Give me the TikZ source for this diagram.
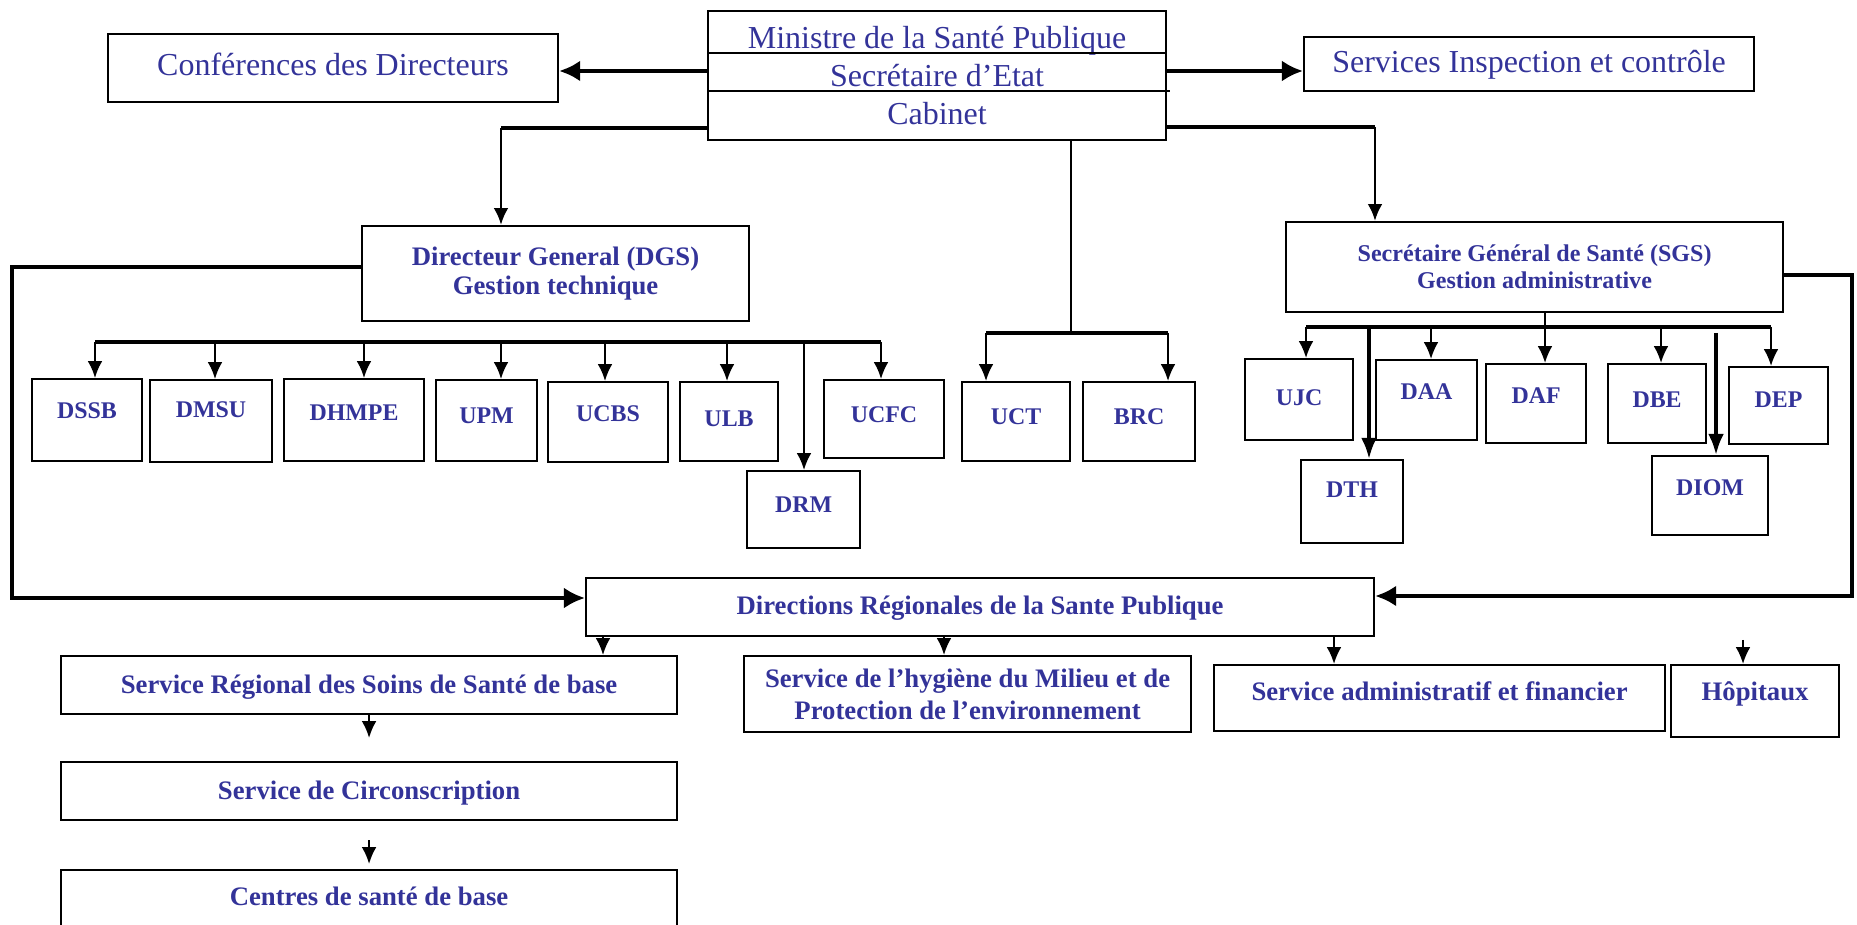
\documentclass[tikz,border=0pt]{standalone}
\usepackage{fontspec}
\setmainfont{Liberation Serif}
\usetikzlibrary{arrows.meta}
\definecolor{orgblue}{RGB}{51,51,153}

\tikzset{
  box/.style={draw, line width=0.6pt, inner sep=0pt, anchor=north west, text=orgblue},
  unit/.style={box, font=\fontsize{6.8}{8}\selectfont\bfseries},
  wide/.style={box, font=\fontsize{7.6}{9.1}\selectfont\bfseries},
  head/.style={box, font=\fontsize{9.1}{10.7}\selectfont},
  sz/.style n args={3}{minimum width=#1mm, text height=#2mm, text depth=#3mm},
  arr/.style={-{Latex[length=4.8pt,width=4.2pt]}, line width=0.6pt},
  bigarr/.style={-{Latex[length=6pt,width=6pt]}, line width=1.2pt},
  bar/.style={line width=1.2pt},
}

\begin{document}
\begin{tikzpicture}[x=1mm, y=-1mm]
\useasboundingbox (0,0) rectangle (185.7,92.5);

% top row
\node[head, sz={45}{4.1}{2.7}] (conf) at (10.7,3.3) {Conférences des Directeurs};
\node[head, align=center, minimum width=45.8mm, minimum height=12.9mm] (min) at (70.7,1.0)
  {Ministre de la Santé Publique\\Secrétaire d’Etat\\Cabinet};
\draw[line width=0.6pt] (min.west |- 0,5.3) -- (min.east |- 0,5.3);
\draw[line width=0.6pt] (min.west |- 0,9.1) -- ([xshift=0.3mm]min.east |- 0,9.1);
\node[head, sz={45}{3.5}{1.9}] (insp) at (130.3,3.6) {Services Inspection et contrôle};

\draw[bigarr] (min.west |- 0,7.1) -- (conf.east |- 0,7.1);
\draw[bigarr] (min.east |- 0,7.1) -- (insp.west |- 0,7.1);

% directions
\node[box, align=center, font=\fontsize{7.6}{8.5}\selectfont\bfseries,
  minimum width=38.7mm, minimum height=9.5mm] (dgs) at (36.1,22.5)
  {Directeur General (DGS)\\Gestion technique};
\node[box, align=center, font=\fontsize{6.85}{7.7}\selectfont\bfseries,
  minimum width=49.7mm, minimum height=9.0mm] (sgs) at (128.5,22.1)
  {Secrétaire Général de Santé (SGS)\\Gestion administrative};

\coordinate (dgsturn) at (50.1,12.8);
\draw[bar] (min.west |- dgsturn) -- (dgsturn);
\draw[arr, line width=0.8pt] (dgsturn) -- (dgsturn |- dgs.north);
\coordinate (sgsturn) at (137.5,12.7);
\draw[bar] (min.east |- sgsturn) -- (sgsturn);
\draw[arr, line width=0.8pt] (sgsturn) -- (sgsturn |- sgs.north);

% DGS units
\node[unit, sz={11.0}{3.9}{4.3}] (dssb) at (3.1,37.8) {DSSB};
\node[unit, sz={12.2}{3.7}{4.5}] (dmsu) at (14.9,37.9) {DMSU};
\node[unit, sz={14.0}{4.1}{4.1}] (dhmpe) at (28.3,37.8) {DHMPE};
\node[unit, sz={10.1}{4.3}{3.8}] (upm) at (43.5,37.9) {UPM};
\node[unit, sz={12.0}{3.9}{4.1}] (ucbs) at (54.7,38.1) {UCBS};
\node[unit, sz={9.8}{4.4}{3.5}] (ulb) at (67.9,38.1) {ULB};
\node[unit, sz={12.0}{4.2}{3.6}] (ucfc) at (82.3,37.9) {UCFC};
\node[unit, sz={11.3}{4.1}{3.6}] (drm) at (74.6,47.0) {DRM};

\coordinate (gbl) at (9.5,34.2);
\coordinate (gbr) at (88.1,34.2);
\draw[bar] (gbl) -- (gbr);
\draw[arr] (gbl) -- (gbl |- dssb.north);
\draw[arr] (21.5,34.4) -- (21.5,34.4 |- dmsu.north);
\draw[arr] (36.4,34.2) -- (36.4,34.2 |- dhmpe.north);
\draw[arr] (50.1,34.2) -- (50.1,34.2 |- upm.north);
\draw[arr] (60.5,34.2) -- (60.5,34.2 |- ucbs.north);
\draw[arr] (72.7,34.2) -- (72.7,34.2 |- ulb.north);
\draw[arr] (80.4,34.2) -- (80.4,34.2 |- drm.north);
\draw[arr] (gbr) -- (gbr |- ucfc.north);

% cabinet units
\node[unit, sz={10.8}{4.2}{3.7}] (uct) at (96.1,38.1) {UCT};
\node[unit, sz={11.2}{4.2}{3.7}] (brc) at (108.2,38.1) {BRC};
\coordinate (cbus) at (107.1,33.3);
\coordinate (cbl) at (98.6,33.3);
\coordinate (cbr) at (116.8,33.3);
\draw[line width=0.6pt] (min.south -| cbus) -- (cbus);
\draw[bar] (cbl) -- (cbr);
\draw[arr] (cbl) -- (cbl |- uct.north);
\draw[arr] (cbr) -- (cbr |- brc.north);

% SGS units
\node[unit, sz={10.8}{4.6}{3.5}] (ujc) at (124.4,35.8) {UJC};
\node[unit, sz={10.1}{3.9}{4.1}] (daa) at (137.5,35.9) {DAA};
\node[unit, sz={10.0}{3.9}{4.0}] (daf) at (148.5,36.3) {DAF};
\node[unit, sz={9.8}{4.3}{3.6}] (dbe) at (160.7,36.3) {DBE};
\node[unit, sz={9.9}{4.0}{3.7}] (dep) at (172.8,36.6) {DEP};
\node[unit, sz={10.2}{3.7}{4.6}] (dth) at (130.0,45.9) {DTH};
\node[unit, sz={11.6}{3.9}{4.0}] (diom) at (165.1,45.5) {DIOM};

\coordinate (sbus) at (154.5,32.7);
\coordinate (sbl) at (130.6,32.7);
\coordinate (sbr) at (177.1,32.7);
\draw[line width=0.6pt] (sgs.south -| sbus) -- (sbus);
\draw[bar] (sbl) -- (sbr);
\draw[arr] (sbl) -- (sbl |- ujc.north);
\draw[arr] (143.1,32.7) -- (143.1,32.7 |- daa.north);
\draw[arr] (sbus) -- (sbus |- daf.north);
\draw[arr] (166.1,32.7) -- (166.1,32.7 |- dbe.north);
\draw[arr] (sbr) -- (sbr |- dep.north);
\draw[-{Latex[length=6pt,width=4.5pt]}, line width=1pt] (136.9,32.7) -- (136.9,32.7 |- dth.north);
\draw[-{Latex[length=6pt,width=4.5pt]}, line width=1pt] (171.6,33.3) -- (171.6,33.3 |- diom.north);

% regional level
\node[wide, sz={78.8}{3.6}{2.2}] (dirreg) at (58.5,57.7) {Directions Régionales de la Sante Publique};
\coordinate (lw) at (1.2,26.7);
\coordinate (lsw) at (1.2,59.8);
\draw[bigarr] (dgs.west |- lw) -- (lw) -- (lsw) -- (dirreg.west |- lsw);
\coordinate (re) at (185.2,27.5);
\coordinate (rse) at (185.2,59.6);
\draw[bigarr] (sgs.east |- re) -- (re) -- (rse) -- (dirreg.east |- rse);

\node[wide, sz={61.6}{3.7}{2.1}] (srssb) at (6.0,65.5) {Service Régional des Soins de Santé de base};
\node[wide, align=center, minimum width=44.7mm, minimum height=7.6mm] (hyg) at (74.3,65.5)
  {Service de l’hygiène du Milieu et de\\Protection de l’environnement};
\node[wide, sz={45.1}{3.5}{3.1}] (saf) at (121.3,66.4) {Service administratif et financier};
\node[wide, sz={16.8}{3.5}{3.7}] (hop) at (167.0,66.4) {Hôpitaux};
\node[wide, sz={61.6}{3.7}{2.1}] (circ) at (6.0,76.1) {Service de Circonscription};
\node[wide, sz={61.6}{3.5}{3.5}] (centres) at (6.0,86.9) {Centres de santé de base};

\draw[arr] (dirreg.south -| 60.3,0) -- (srssb.north -| 60.3,0);
\draw[arr] (dirreg.south -| 94.4,0) -- (hyg.north -| 94.4,0);
\draw[arr] (dirreg.south -| 133.4,0) -- (saf.north -| 133.4,0);
\coordinate (hoptop) at (174.3,64.0);
\draw[arr] (hoptop) -- (hoptop |- hop.north);
\draw[arr, shorten >=2.3mm] (srssb.south) -- (circ.north);
\draw[arr, shorten <=1.9mm, shorten >=0.5mm] (circ.south) -- (centres.north);
\end{tikzpicture}
\end{document}
